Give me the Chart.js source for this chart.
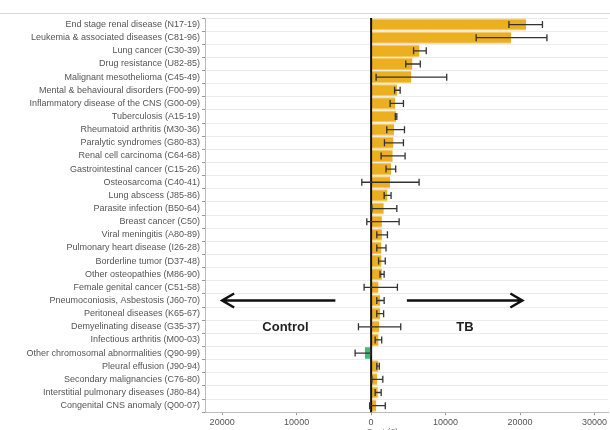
<!DOCTYPE html>
<html>
<head>
<meta charset="utf-8">
<script src="https://cdn.jsdelivr.net/npm/chart.js@4"></script>
<style>
  html, body { margin: 0; padding: 0; background: #fff; }
  #wrap { width: 610px; height: 430px; position: relative; }
</style>
</head>
<body>
<div id="wrap"><canvas id="costChart"></canvas></div>
<script>
const diseases = [
    'End stage renal disease (N17-19)',
    'Leukemia & associated diseases (C81-96)',
    'Lung cancer (C30-39)',
    'Drug resistance (U82-85)',
    'Malignant mesothelioma (C45-49)',
    'Mental & behavioural disorders (F00-99)',
    'Inflammatory disease of the CNS (G00-09)',
    'Tuberculosis (A15-19)',
    'Rheumatoid arthritis (M30-36)',
    'Paralytic syndromes (G80-83)',
    'Renal cell carcinoma (C64-68)',
    'Gastrointestinal cancer (C15-26)',
    'Osteosarcoma (C40-41)',
    'Lung abscess (J85-86)',
    'Parasite infection (B50-64)',
    'Breast cancer (C50)',
    'Viral meningitis (A80-89)',
    'Pulmonary heart disease (I26-28)',
    'Borderline tumor (D37-48)',
    'Other osteopathies (M86-90)',
    'Female genital cancer (C51-58)',
    'Pneumoconiosis, Asbestosis (J60-70)',
    'Peritoneal diseases (K65-67)',
    'Demyelinating disease (G35-37)',
    'Infectious arthritis (M00-03)',
    'Other chromosomal abnormalities (Q90-99)',
    'Pleural effusion (J90-94)',
    'Secondary malignancies (C76-80)',
    'Interstitial pulmonary diseases (J80-84)',
    'Congenital CNS anomaly (Q00-07)'
];

// mean cost difference
const costDiff = [20800, 18800, 6500, 5550, 5400, 3500, 3250, 3350, 3100, 3000,
    2900, 2700, 2550, 2200, 1700, 1450, 1450, 1400, 1400, 1450,
    1000, 1200, 1200, 1100, 1000, -850, 1000, 800, 900, 700];

// confidence interval
const ciLow = [18500, 14100, 5700, 4650, 670, 3150, 2550, 3250, 2100, 1790,
    1340, 2000, -1250, 1750, 100, -580, 760, 760, 1000, 1200,
    -940, 760, 760, -1700, 540, -2150, 760, 100, 540, -200];
const ciHigh = [23000, 23600, 7400, 6600, 10150, 3900, 4340, 3450, 4480, 4340,
    4560, 3300, 6440, 2680, 3450, 3760, 2190, 2000, 1900, 1750,
    3530, 1750, 1680, 3980, 1420, -50, 1100, 1570, 1350, 1900];

const xTicks = [-20000, -10000, 0, 10000, 20000, 30000];

// error bars, zero line, arrows and labels
const extras = {
    id: 'extras',
    afterDatasetsDraw(chart) {
        const ctx = chart.ctx;
        const x = chart.scales.x;
        const y = chart.scales.y;
        const area = chart.chartArea;
        ctx.save();

        // zero line
        ctx.strokeStyle = '#111';
        ctx.lineWidth = 2;
        ctx.beginPath();
        ctx.moveTo(x.getPixelForValue(0), area.top);
        ctx.lineTo(x.getPixelForValue(0), area.bottom);
        ctx.stroke();

        // error bars
        ctx.strokeStyle = '#333';
        ctx.lineWidth = 1.3;
        ciLow.forEach((lo, i) => {
            const py = y.getPixelForValue(i);
            const x1 = x.getPixelForValue(lo);
            const x2 = x.getPixelForValue(ciHigh[i]);
            ctx.beginPath();
            ctx.moveTo(x1, py); ctx.lineTo(x2, py);
            ctx.moveTo(x1, py - 3.5); ctx.lineTo(x1, py + 3.5);
            ctx.moveTo(x2, py - 3.5); ctx.lineTo(x2, py + 3.5);
            ctx.stroke();
        });

        // arrows
        const ay = y.getPixelForValue(21);
        ctx.strokeStyle = '#111';
        ctx.lineWidth = 2.5;
        const arrow = (from, to) => {
            const a = x.getPixelForValue(from);
            const b = x.getPixelForValue(to);
            const d = b > a ? -1 : 1;
            ctx.beginPath();
            ctx.moveTo(a, ay); ctx.lineTo(b, ay);
            ctx.moveTo(b + d * 12, ay - 7); ctx.lineTo(b, ay); ctx.lineTo(b + d * 12, ay + 7);
            ctx.stroke();
        };
        arrow(-4800, -20000);
        arrow(4800, 20300);

        ctx.fillStyle = '#222';
        ctx.font = 'bold 13px "Liberation Sans", Arial, sans-serif';
        ctx.textAlign = 'center';
        ctx.textBaseline = 'middle';
        const ty = y.getPixelForValue(23) + 1;
        ctx.fillText('Control', x.getPixelForValue(-11500), ty);
        ctx.fillText('TB', x.getPixelForValue(12600), ty);

        // x title, cut off by the bottom edge
        ctx.fillStyle = '#777';
        ctx.font = '9px "Liberation Sans", Arial, sans-serif';
        ctx.textBaseline = 'top';
        ctx.fillText('Cost (£)', x.getPixelForValue(1500), 428);

        // top rule
        ctx.strokeStyle = '#d9d9d9';
        ctx.lineWidth = 1;
        ctx.beginPath();
        ctx.moveTo(0, 13.5); ctx.lineTo(chart.width, 13.5);
        ctx.stroke();
        ctx.restore();
    }
};

new Chart(document.getElementById('costChart'), {
    type: 'bar',
    data: {
        labels: diseases,
        datasets: [{
            data: costDiff,
            backgroundColor: costDiff.map(v => v < 0 ? '#3dbd78' : '#ebaf20'),
            borderColor: costDiff.map(v => v < 0 ? '#5fd394' : '#f3c85c'),
            borderWidth: { top: 1, bottom: 1, left: 0, right: 0 },
            borderSkipped: false,
            barPercentage: 1,
            categoryPercentage: 0.92
        }]
    },
    options: {
        indexAxis: 'y',
        responsive: true,
        maintainAspectRatio: false,
        animation: false,
        layout: { padding: { top: 18, right: 2, bottom: 0, left: 0 } },
        plugins: {
            legend: { display: false },
            tooltip: { enabled: false }
        },
        scales: {
            x: {
                min: -22300,
                max: 31800,
                afterBuildTicks: axis => { axis.ticks = xTicks.map(v => ({ value: v })); },
                grid: {
                    display: true,
                    drawOnChartArea: false,
                    tickLength: 3,
                    color: '#999'
                },
                border: { color: '#bbb', width: 1 },
                ticks: {
                    color: '#555',
                    font: { family: '"Liberation Sans", Arial, sans-serif', size: 9 },
                    padding: 2,
                    callback: v => String(Math.abs(v))
                }
            },
            y: {
                afterFit: axis => { axis.width = 205; },
                grid: {
                    color: '#ececec',
                    tickLength: 3,
                    tickColor: '#999'
                },
                border: { color: '#bbb', width: 1 },
                ticks: {
                    color: '#555',
                    padding: 2,
                    autoSkip: false,
                    font: { family: '"Liberation Sans", Arial, sans-serif', size: 9 }
                }
            }
        }
    },
    plugins: [extras]
});
</script>
</body>
</html>
